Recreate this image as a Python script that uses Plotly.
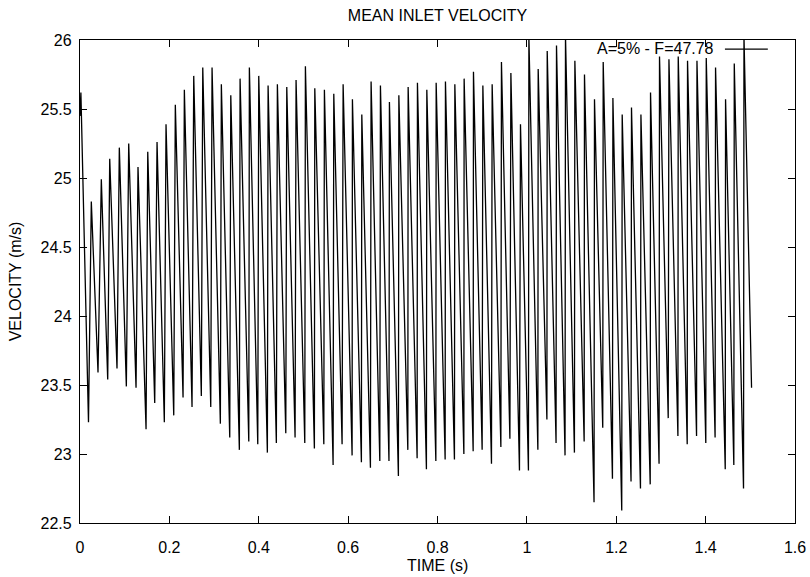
import plotly.graph_objects as go

# Mean inlet velocity history: successive extrema of the pulsating signal
time_s = [
    0.0000, 0.0020,
    0.0190, 0.0253, 0.0403, 0.0477, 0.0620, 0.0665, 0.0828, 0.0880,
    0.1037, 0.1090, 0.1254, 0.1298, 0.1478, 0.1516, 0.1672, 0.1724,
    0.1887, 0.1925, 0.2098, 0.2133, 0.2306, 0.2335, 0.2507, 0.2545,
    0.2715, 0.2747, 0.2926, 0.2955, 0.3141, 0.3163, 0.3351, 0.3374,
    0.3566, 0.3582, 0.3777, 0.3790, 0.3978, 0.4000, 0.4193, 0.4209,
    0.4394, 0.4417, 0.4605, 0.4627, 0.4813, 0.4835, 0.5030, 0.5044,
    0.5245, 0.5254, 0.5456, 0.5469, 0.5664, 0.5679, 0.5865, 0.5888,
    0.6089, 0.6096, 0.6297, 0.6306, 0.6499, 0.6514, 0.6709, 0.6723,
    0.6914, 0.6924, 0.7125, 0.7135, 0.7336, 0.7343, 0.7544, 0.7551,
    0.7752, 0.7761, 0.7963, 0.7970, 0.8171, 0.8178, 0.8379, 0.8388,
    0.8590, 0.8596, 0.8798, 0.8805, 0.8999, 0.9015, 0.9208, 0.9223,
    0.9418, 0.9431, 0.9620, 0.9642, 0.9834, 0.9857, 1.0035, 1.0045,
    1.0246, 1.0253, 1.0448, 1.0455, 1.0653, 1.0663, 1.0854, 1.0864,
    1.1064, 1.1074, 1.1282, 1.1289, 1.1503, 1.1513, 1.1698, 1.1708,
    1.1915, 1.1925, 1.2123, 1.2133, 1.2331, 1.2341, 1.2542, 1.2552,
    1.2760, 1.2767, 1.2958, 1.2968, 1.3163, 1.3179, 1.3380, 1.3387,
    1.3588, 1.3595, 1.3797, 1.3806, 1.4004, 1.4014, 1.4212, 1.4222,
    1.4439, 1.4446, 1.4631, 1.4641, 1.4848, 1.4858, 1.5028,
]

velocity_ms = [
    25.45, 25.62,
    23.23, 24.83, 23.59, 24.99, 23.54, 25.14, 23.62, 25.22,
    23.49, 25.25, 23.48, 25.08, 23.18, 25.19, 23.37, 25.26,
    23.23, 25.39, 23.28, 25.53, 23.41, 25.64, 23.34, 25.74,
    23.42, 25.80, 23.34, 25.80, 23.22, 25.68, 23.12, 25.60,
    23.03, 25.72, 23.09, 25.80, 23.07, 25.74, 23.01, 25.67,
    23.08, 25.68, 23.15, 25.66, 23.12, 25.71, 23.08, 25.81,
    23.04, 25.65, 23.07, 25.64, 22.92, 25.61, 23.07, 25.68,
    22.99, 25.57, 22.94, 25.46, 22.90, 25.70, 22.95, 25.67,
    22.95, 25.55, 22.84, 25.60, 23.03, 25.66, 22.97, 25.69,
    22.89, 25.64, 22.95, 25.69, 22.96, 25.70, 22.96, 25.68,
    23.00, 25.72, 23.02, 25.77, 23.03, 25.67, 22.93, 25.68,
    23.05, 25.84, 23.11, 25.76, 22.88, 25.39, 22.88, 26.02,
    23.03, 25.79, 23.25, 25.92, 23.08, 25.96, 22.99, 26.03,
    23.01, 25.85, 23.09, 25.75, 22.65, 25.57, 23.19, 25.84,
    22.82, 25.58, 22.59, 25.46, 22.80, 25.51, 22.75, 25.46,
    22.78, 25.62, 22.93, 25.88, 23.26, 25.86, 23.13, 25.88,
    23.07, 25.85, 23.13, 25.85, 23.08, 25.87, 23.12, 25.80,
    22.89, 25.57, 22.92, 25.83, 22.75, 26.03, 23.48,
]

x_ticks = [0, 0.2, 0.4, 0.6, 0.8, 1.0, 1.2, 1.4, 1.6]
x_tick_labels = ["0", "0.2", "0.4", "0.6", "0.8", "1", "1.2", "1.4", "1.6"]
y_ticks = [22.5, 23, 23.5, 24, 24.5, 25, 25.5, 26]
y_tick_labels = ["22.5", "23", "23.5", "24", "24.5", "25", "25.5", "26"]

series_label = "A=5% - F=47.78"

FONT = "Liberation Sans, Arial, Helvetica, sans-serif"

fig = go.Figure()
fig.add_trace(go.Scatter(
    x=time_s, y=velocity_ms, mode="lines",
    line=dict(color="black", width=1.3),
    showlegend=False, hoverinfo="skip",
))

# key: label text followed by a short sample of the line style
fig.add_annotation(
    text=series_label, xref="paper", yref="paper",
    x=0.89, y=0.983, xanchor="right", yanchor="middle",
    showarrow=False, font=dict(family=FONT, size=16, color="black"),
)
fig.add_shape(
    type="line", xref="paper", yref="paper",
    x0=0.902, x1=0.962, y0=0.981, y1=0.981,
    line=dict(color="black", width=1.3),
)

# x-axis caption placed below the tick labels
fig.add_annotation(
    text="TIME (s)", xref="paper", yref="paper",
    x=0.5, y=-0.087, xanchor="center", yanchor="middle",
    showarrow=False, font=dict(family=FONT, size=16, color="black"),
)

axis_common = dict(
    showline=True, linecolor="black", linewidth=1.3, mirror="ticks",
    ticks="inside", ticklen=7, tickcolor="black", tickwidth=1.3,
    showgrid=False, zeroline=False,
    tickfont=dict(family=FONT, size=16, color="black"),
)

fig.update_layout(
    width=810, height=577,
    margin=dict(l=80, r=15, t=40, b=54),
    paper_bgcolor="white", plot_bgcolor="white",
    font=dict(family=FONT, size=16, color="black"),
    title=dict(
        text="MEAN INLET VELOCITY", x=0.5, xref="paper", xanchor="center",
        y=0.974, yref="container", yanchor="middle",
        font=dict(family=FONT, size=16, color="black"),
    ),
    xaxis=dict(
        range=[0, 1.6], tickvals=x_ticks, ticktext=x_tick_labels,
        ticklabelstandoff=10, automargin=False,
        **axis_common,
    ),
    yaxis=dict(
        range=[22.5, 26], tickvals=y_ticks, ticktext=y_tick_labels,
        title=dict(text="VELOCITY (m/s)", font=dict(family=FONT, size=16), standoff=14),
        ticklabelstandoff=4,
        **axis_common,
    ),
)

fig.write_html("out.html")
